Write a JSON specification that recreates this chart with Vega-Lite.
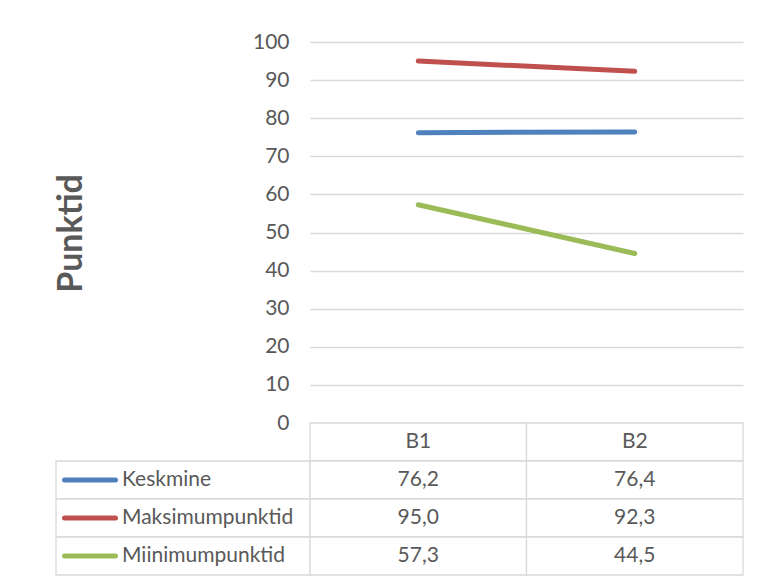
{
  "$schema": "https://vega.github.io/schema/vega-lite/v6.json",
  "padding": {"left": 54, "top": 31, "right": 18, "bottom": 0},
  "background": "white",
  "datasets": {
    "andmed": [
      {"seeria": "Keskmine", "kategooria": "B1", "vaartus": 76.2},
      {"seeria": "Keskmine", "kategooria": "B2", "vaartus": 76.4},
      {"seeria": "Maksimumpunktid", "kategooria": "B1", "vaartus": 95.0},
      {"seeria": "Maksimumpunktid", "kategooria": "B2", "vaartus": 92.3},
      {"seeria": "Miinimumpunktid", "kategooria": "B1", "vaartus": 57.3},
      {"seeria": "Miinimumpunktid", "kategooria": "B2", "vaartus": 44.5}
    ]
  },
  "columns": 2,
  "spacing": 0,
  "bounds": "flush",
  "align": "each",
  "concat": [
    {
      "width": 254,
      "height": 381,
      "data": {"values": []},
      "mark": {"type": "point", "opacity": 0},
      "encoding": {}
    },
    {
      "width": 433,
      "height": 381,
      "data": {"name": "andmed"},
      "mark": {"type": "line", "strokeWidth": 5, "strokeCap": "round"},
      "encoding": {
        "x": {"field": "kategooria", "type": "nominal", "scale": {"type": "point", "padding": 0.5}, "axis": null},
        "y": {
          "field": "vaartus", "type": "quantitative",
          "scale": {"domain": [0, 100], "nice": false},
          "axis": {
            "title": "Punktid",
            "values": [0, 10, 20, 30, 40, 50, 60, 70, 80, 90, 100],
            "domain": false, "ticks": false,
            "labelFont": "Lato", "labelFontSize": 21, "labelColor": "#595959", "labelPadding": 21,
            "grid": true, "gridColor": "#d9d9d9", "gridWidth": 1.3,
            "titleFont": "Lato", "titleFontSize": 34, "titleFontWeight": "bold", "titleColor": "#595959",
            "titleAngle": 270, "titleBaseline": "middle", "titleAlign": "center",
            "titleX": -239, "titleY": 191
          }
        },
        "color": {
          "field": "seeria", "type": "nominal",
          "scale": {"domain": ["Keskmine", "Maksimumpunktid", "Miinimumpunktid"], "range": ["#4F81BD", "#C0504D", "#9BBB59"]},
          "legend": null
        }
      }
    },
    {
      "width": 254,
      "height": 152,
      "data": {"name": "andmed"},
      "transform": [{"filter": "datum.kategooria === 'B1'"}],
      "encoding": {
        "y": {
          "field": "seeria", "type": "nominal",
          "scale": {"type": "band", "domain": ["pais", "Keskmine", "Maksimumpunktid", "Miinimumpunktid"], "paddingInner": 0, "paddingOuter": 0},
          "axis": null
        }
      },
      "layer": [
        {
          "mark": {"type": "rect", "fill": "white", "stroke": "#d9d9d9", "strokeWidth": 1.3},
          "encoding": {"x": {"value": 0}, "x2": {"value": "width"}}
        },
        {
          "mark": {"type": "point", "shape": "stroke", "size": 2601, "filled": false, "strokeWidth": 5, "strokeCap": "round", "opacity": 1},
          "encoding": {
            "x": {"value": 34},
            "color": {
              "field": "seeria", "type": "nominal",
              "scale": {"domain": ["Keskmine", "Maksimumpunktid", "Miinimumpunktid"], "range": ["#4F81BD", "#C0504D", "#9BBB59"]},
              "legend": null
            }
          }
        },
        {
          "mark": {"type": "text", "align": "left", "baseline": "middle", "font": "Lato", "fontSize": 21, "color": "#595959"},
          "encoding": {"x": {"value": 66}, "text": {"field": "seeria"}}
        }
      ]
    },
    {
      "width": 433,
      "height": 152,
      "data": {"name": "andmed"},
      "encoding": {
        "x": {"field": "kategooria", "type": "nominal", "scale": {"type": "band", "domain": ["B1", "B2"], "paddingInner": 0, "paddingOuter": 0}, "axis": null}
      },
      "layer": [
        {
          "transform": [{"filter": "datum.seeria === 'Keskmine'"}],
          "mark": {"type": "rect", "fill": "white", "stroke": "#d9d9d9", "strokeWidth": 1.3},
          "encoding": {
            "y": {"datum": "pais", "type": "nominal", "scale": {"type": "band", "domain": ["pais", "Keskmine", "Maksimumpunktid", "Miinimumpunktid"], "paddingInner": 0, "paddingOuter": 0}, "axis": null}
          }
        },
        {
          "mark": {"type": "rect", "fill": "white", "stroke": "#d9d9d9", "strokeWidth": 1.3},
          "encoding": {
            "y": {"field": "seeria", "type": "nominal", "axis": null}
          }
        },
        {
          "transform": [{"filter": "datum.seeria === 'Keskmine'"}],
          "mark": {"type": "text", "baseline": "middle", "font": "Lato", "fontSize": 21, "color": "#595959"},
          "encoding": {
            "y": {"datum": "pais", "type": "nominal", "axis": null},
            "text": {"field": "kategooria"}
          }
        },
        {
          "mark": {"type": "text", "baseline": "middle", "font": "Lato", "fontSize": 21, "color": "#595959"},
          "encoding": {
            "y": {"field": "seeria", "type": "nominal", "axis": null},
            "text": {"field": "vaartus", "type": "quantitative", "format": ".1f"}
          }
        }
      ]
    }
  ],
  "config": {
    "view": {"stroke": null},
    "locale": {"number": {"decimal": ",", "thousands": " ", "grouping": [3], "currency": ["", " €"]}}
  }
}
